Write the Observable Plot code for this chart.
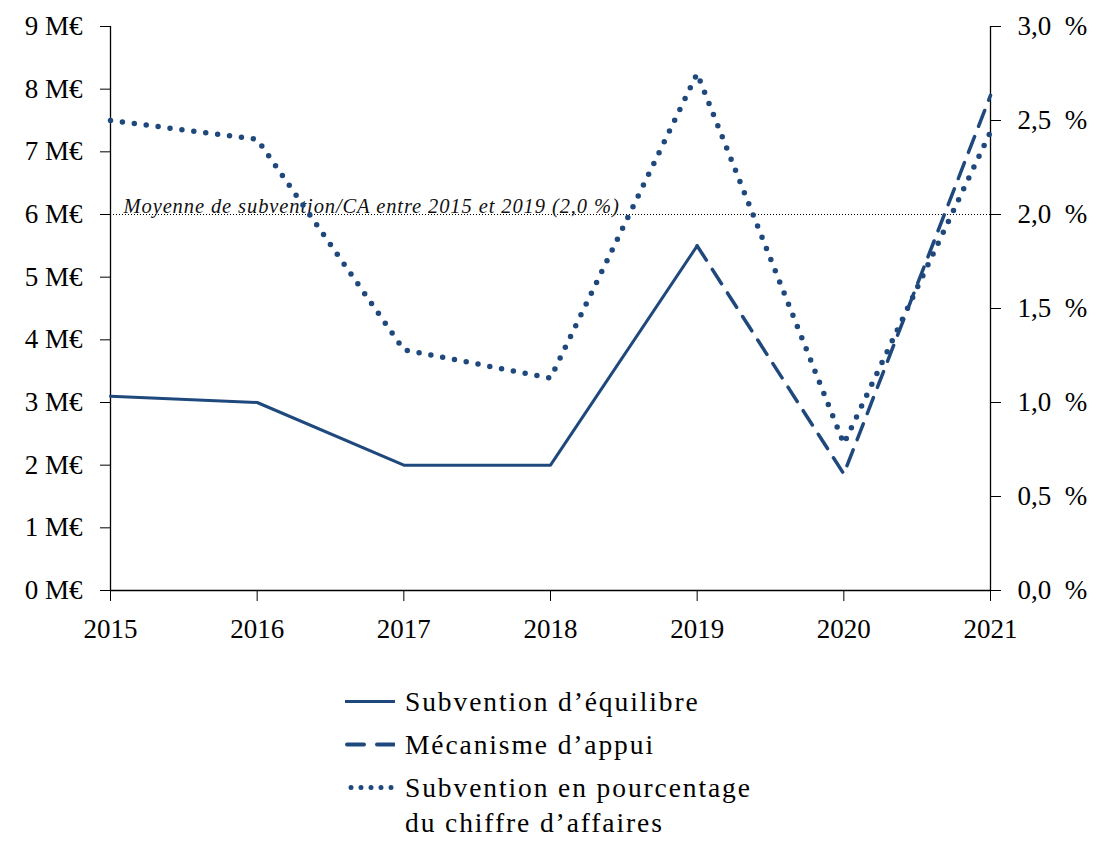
<!DOCTYPE html>
<html>
<head>
<meta charset="utf-8">
<script src="https://cdn.jsdelivr.net/npm/d3@7"></script>
<script src="https://cdn.jsdelivr.net/npm/@observablehq/plot@0.6"></script>
<style>
  body { margin: 0; background: #fff; font-family: "Liberation Serif", serif; }
  #legend { margin-left: 345px; padding-top: 24px; font-size: 27.5px; letter-spacing: 1.9px; color: #000; }
  .item { display: flex; align-items: flex-start; margin-bottom: 8px; }
  .item svg { flex: none; margin-right: 10px; }
  .item span { line-height: 35px; }
</style>
</head>
<body>
<div id="chart"></div>
<div id="legend"></div>
<script>
// ---- Data ----
const years = [2015, 2016, 2017, 2018, 2019, 2020, 2021];
const subventionEquilibre = [3.1, 3.0, 2.0, 2.0, 5.5, null, null];    // M€
const mecanismeAppui      = [null, null, null, null, 5.5, 1.86, 7.9]; // M€
const subventionPctCA     = [2.5, 2.4, 1.28, 1.13, 2.75, 0.78, 2.44]; // %
const moyennePct = 2.0; // %
const moyenneLabel = "Moyenne de subvention/CA entre 2015 et 2019 (2,0 %)";
const leftTicks = [0, 1, 2, 3, 4, 5, 6, 7, 8, 9];          // M€
const rightTicks = [0, 0.5, 1.0, 1.5, 2.0, 2.5, 3.0];       // %
const seriesNames = ["Subvention d’équilibre", "Mécanisme d’appui", "Subvention en pourcentage du chiffre d’affaires"];

const color = "#1F497D";
const font = "'Liberation Serif', serif";
const pctToM = leftTicks[leftTicks.length - 1] / rightTicks[rightTicks.length - 1];

const toRows = (arr) => years.map((year, i) => ({year, value: arr[i]})).filter(d => d.value != null);
const solidRows = toRows(subventionEquilibre);
const dashRows = toRows(mecanismeAppui);
const pctRows = toRows(subventionPctCA).map(d => ({year: d.year, value: d.value * pctToM}));

const chart = Plot.plot({
  width: 1104,
  height: 660,
  marginLeft: 110,
  marginRight: 114,
  marginTop: 26,
  marginBottom: 70,
  style: {fontFamily: font, fontSize: "27px", color: "#000", background: "#fff"},
  x: {domain: [years[0], years[years.length - 1]], label: null},
  y: {domain: [leftTicks[0], leftTicks[leftTicks.length - 1]], label: null},
  marks: [
    Plot.ruleY([moyennePct * pctToM], {stroke: "#000", strokeWidth: 1, strokeDasharray: "1,2"}),
    Plot.text([moyenneLabel], {x: years[0], y: moyennePct * pctToM, text: d => d, textAnchor: "start", lineAnchor: "bottom", dx: 13, dy: -2, fontStyle: "italic", fontSize: 20.5, fill: "#111"}),
    Plot.axisY({ticks: leftTicks, tickFormat: d => d + " M€", tickSize: 10, tickPadding: 18, label: null, fontSize: 27}),
    Plot.axisY({anchor: "right", ticks: rightTicks.map(p => p * pctToM), tickFormat: d => (d / pctToM).toFixed(1).replace(".", ",") + "\u2002%", tickSize: 10, tickPadding: 17, label: null, fontSize: 27}),
    Plot.axisX({ticks: years, tickFormat: d => String(d), tickSize: 11, tickPadding: 17, label: null, fontSize: 27}),
    Plot.ruleX([years[0], years[years.length - 1]], {stroke: "#000", strokeWidth: 1.3}),
    Plot.ruleY([leftTicks[0]], {stroke: "#000", strokeWidth: 1.3}),
    Plot.line(solidRows, {x: "year", y: "value", stroke: color, strokeWidth: 3}),
    Plot.line(dashRows, {x: "year", y: "value", stroke: color, strokeWidth: 3.5, strokeDasharray: "17,11"}),
    Plot.line(pctRows, {x: "year", y: "value", stroke: color, strokeWidth: 5.5, strokeDasharray: "0,12", strokeLinecap: "round"})
  ]
});
chart.querySelectorAll("text").forEach(t => {
  if (t.textContent.startsWith("Moyenne")) t.setAttribute("letter-spacing", "0.9");
});
document.getElementById("chart").appendChild(chart);

// ---- Legend ----
const swatches = [
  `<line x1="0" y1="17.5" x2="50" y2="17.5" stroke="${color}" stroke-width="3"/>`,
  `<line x1="2" y1="17.5" x2="50" y2="17.5" stroke="${color}" stroke-width="4" stroke-dasharray="17,13" stroke-linecap="round"/>`,
  `<line x1="6" y1="17.5" x2="50" y2="17.5" stroke="${color}" stroke-width="5" stroke-dasharray="0,10" stroke-linecap="round"/>`
];
const legend = document.getElementById("legend");
seriesNames.forEach((name, i) => {
  const item = document.createElement("div");
  item.className = "item";
  const text = i === 2 ? "Subvention en pourcentage<br>du chiffre d’affaires" : name;
  item.innerHTML = `<svg width="50" height="35">${swatches[i]}</svg><span>${text}</span>`;
  legend.appendChild(item);
});
</script>
</body>
</html>
